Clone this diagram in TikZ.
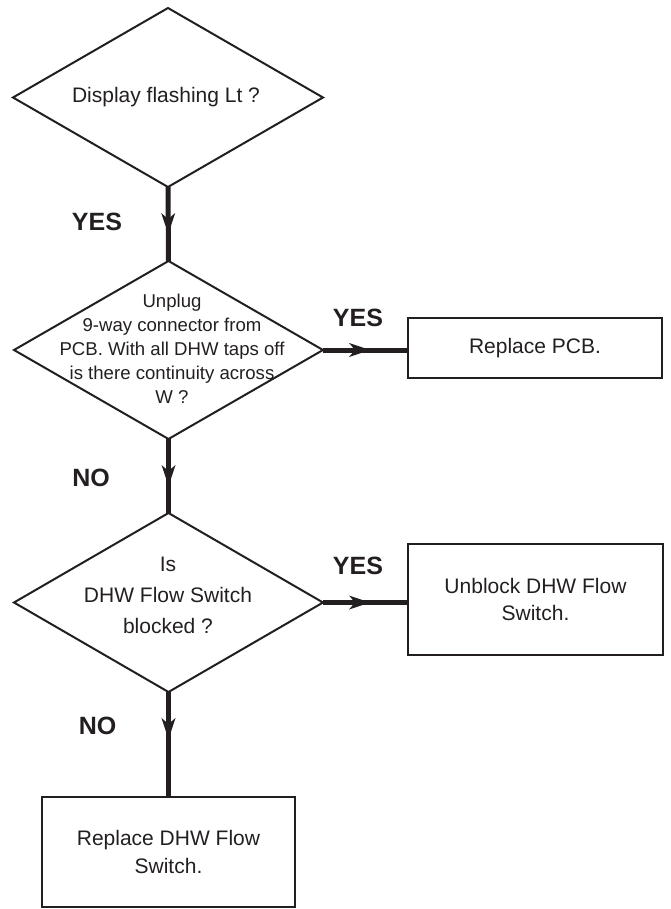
\documentclass[tikz,border=0pt]{standalone}
\usepackage{fontspec}
\setmainfont{Liberation Sans}
\usetikzlibrary{shapes.geometric,arrows.meta,decorations.markings}
\definecolor{ink}{RGB}{35,31,32}
\begin{document}
\begin{tikzpicture}[x=1pt,y=-1pt,
  dia/.style={shape=diamond,draw=ink,line width=2pt,inner sep=0pt,outer sep=0pt,minimum width=310pt,minimum height=179pt},
  box/.style={draw=ink,line width=2.2pt,inner sep=0pt,outer sep=0pt,text=ink,align=center,font=\fontsize{21}{27.5}\selectfont},
  lbl/.style={text=ink,font=\fontsize{25}{30}\selectfont\bfseries,inner sep=0pt},
  txt/.style={text=ink,align=center,inner sep=0pt},
  flow/.style={draw=ink,line width=5pt,postaction={decorate},
    decoration={markings,mark=at position 47pt with {\arrow[ink]{Stealth[length=21pt,width=14pt,inset=6pt,line width=0pt]}}}},
]
\useasboundingbox (0,0) rectangle (670,909);

% decisions
\node[dia] (d1) at (168,97.5) {};
\node[txt,font=\fontsize{21}{27}\selectfont] (t1) at (166,97) {Display flashing Lt ?};

\node[dia,minimum width=309pt,minimum height=178pt] (d2) at (168.5,350) {};
\node[txt,font=\fontsize{18.6}{24}\selectfont] (t2) at (172,349) {Unplug\\9-way connector from\\PCB. With all DHW taps off\\is there continuity across\\W ?};

\node[dia,minimum width=309pt,minimum height=179pt] (d3) at (168.5,602.5) {};
\node[txt,font=\fontsize{21}{31}\selectfont] (t3) at (168,595) {Is\\DHW Flow Switch\\blocked ?};

% actions
\node[box,minimum width=254pt,minimum height=60pt] (pcb) at (535,348) {Replace PCB.};
\node[box,minimum width=255pt,minimum height=111pt] (ub) at (535.5,599.5) {Unblock DHW Flow\\Switch.};
\node[box,minimum width=253pt,minimum height=110pt] (rep) at (168.5,852) {Replace DHW Flow\\Switch.};

% labels
\node[lbl] (y1) at (97,222) {YES};
\node[lbl] (y2) at (358,318) {YES};
\node[lbl] (y3) at (358,566) {YES};
\node[lbl] (n1) at (91,478) {NO};
\node[lbl] (n2) at (97.5,726) {NO};

% connectors
\path[flow] (d1.south) -- (d2.north);
\path[flow] (d2.east) -- (d2.east -| pcb.west);
\path[flow] (d2.south) -- (d3.north);
\path[flow] (d3.east) -- (d3.east -| ub.west);
\path[flow] (d3.south) -- (rep.north);
\end{tikzpicture}
\end{document}
